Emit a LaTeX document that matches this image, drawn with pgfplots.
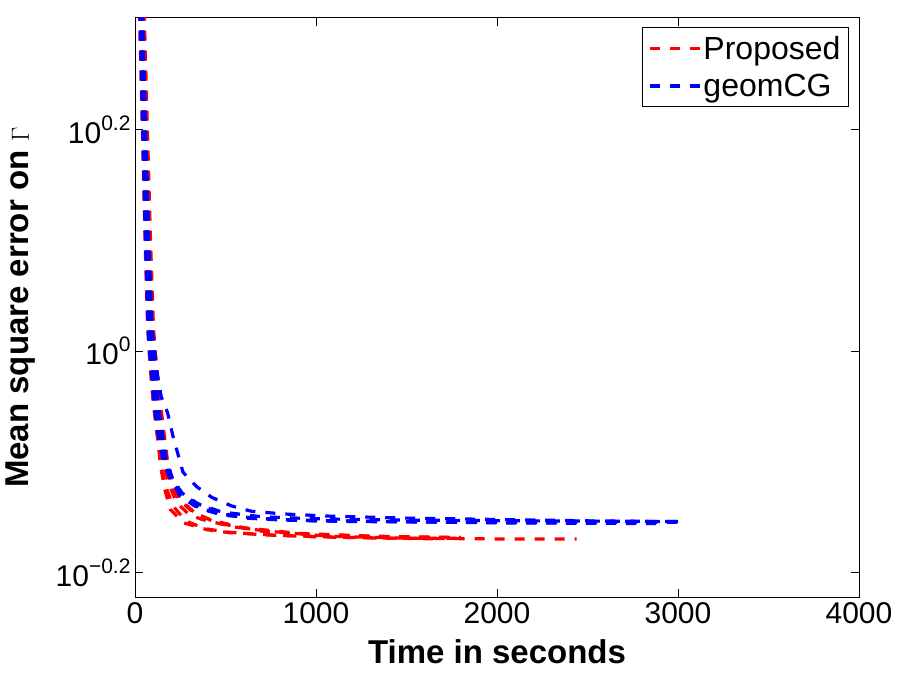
\documentclass[border=0pt]{standalone}
\usepackage{fontspec}
\setmainfont{Liberation Sans}
\usepackage{pgfplots}
\pgfplotsset{compat=1.18}
\newcommand\tickfont{\fontsize{30bp}{36bp}\selectfont}
\newcommand\legfont{\fontsize{32bp}{38bp}\selectfont}
\newcommand\labfont{\fontsize{33bp}{39bp}\selectfont\bfseries}
\newcommand\expo[1]{\raisebox{13bp}{\fontsize{21bp}{21bp}\selectfont #1}}
\begin{document}
\begin{tikzpicture}
\useasboundingbox (0,0) rectangle (900bp,675bp);
\begin{axis}[
  at={(135bp,78bp)}, anchor=south west,
  scale only axis, width=724bp, height=579bp,
  ymode=log, xmin=0, xmax=4000, ymin=0.6, ymax=2.0,
  xtick={0,1000,2000,3000,4000},
  xticklabels={0,1000,2000,3000,4000},
  ytick={0.6309573,1,1.5848932},
  yticklabels={10\expo{−0.2},10\expo{0},10\expo{0.2}},
  yminorticks=false, xminorticks=false,
  tick align=inside, major tick length=8bp,
  tick style={black, line width=0.8bp},
  axis line style={black, line width=1bp},
  ticklabel style={font=\tickfont},
  xticklabel style={yshift=-2bp},
  yticklabel style={xshift=-1bp},
  xlabel={Time in seconds},
  ylabel={Mean square error on $\Gamma$},
  xlabel style={font=\labfont, at={(axis description cs:0.5,-0.114)}, anchor=base},
  ylabel style={font=\labfont, at={(axis description cs:-0.1575,0.5)}, anchor=center},
  legend style={at={(rel axis cs:0.986,0.9845)}, anchor=north east, font=\legfont,
    draw=black, line width=0.8bp, inner xsep=6bp, inner ysep=7bp, row sep=9bp},
  legend cell align=left,
  legend image code/.code={\draw[#1] (0bp,0bp) -- (50bp,0bp);},
  every axis plot/.append style={line width=3.2bp, dash pattern=on 10bp off 10bp},
]
% Proposed (red)
\addplot[red] coordinates {(15,2.3)(25,2.0)(40,1.6)(55,1.27)(70,1.05)(78,1.0)(88,0.95)(100,0.90)(118,0.85)(140,0.80)(170,0.755)(210,0.725)(280,0.703)(380,0.692)(500,0.687)(700,0.683)(1000,0.680)(1400,0.678)(1800,0.678)};
\addlegendentry{Proposed}
\addplot[red, forget plot] coordinates {(25,2.3)(35,2.0)(50,1.6)(65,1.27)(80,1.05)(88,1.0)(100,0.95)(112,0.90)(132,0.85)(155,0.80)(185,0.76)(230,0.73)(300,0.712)(370,0.705)(550,0.694)(735,0.688)(1066,0.681)(1500,0.678)(2000,0.677)(2440,0.677)};
\addplot[red, forget plot] coordinates {(35,2.3)(45,2.0)(60,1.6)(75,1.27)(92,1.05)(102,1.0)(115,0.95)(128,0.90)(148,0.85)(168,0.80)(195,0.76)(240,0.735)(320,0.716)(420,0.704)(600,0.693)(900,0.685)(1300,0.681)(1800,0.679)};
\addplot[red, forget plot] coordinates {(20,2.3)(30,2.0)(45,1.6)(60,1.27)(75,1.05)(83,1.0)(93,0.95)(105,0.90)(122,0.85)(140,0.79)(165,0.75)(195,0.72)(270,0.70)(400,0.690)(520,0.686)(800,0.682)(1200,0.679)(1700,0.677)};
\addplot[red, forget plot] coordinates {(40,2.3)(52,2.0)(68,1.6)(85,1.27)(102,1.05)(112,1.0)(125,0.95)(140,0.90)(158,0.85)(178,0.80)(205,0.76)(250,0.735)(330,0.715)(450,0.700)(700,0.688)(1000,0.683)(1400,0.680)(1800,0.679)};
% geomCG (blue)
\addplot[blue] coordinates {(30,2.3)(42,2.0)(58,1.6)(75,1.27)(95,1.05)(108,1.0)(125,0.95)(145,0.91)(180,0.88)(210,0.838)(265,0.778)(340,0.755)(425,0.738)(535,0.725)(645,0.717)(830,0.713)(1066,0.710)(1500,0.707)(2000,0.705)(2500,0.703)(2950,0.702)};
\addlegendentry{geomCG}
\addplot[blue, forget plot] coordinates {(18,2.3)(28,2.0)(42,1.6)(57,1.27)(72,1.05)(80,1.0)(92,0.95)(104,0.90)(122,0.85)(150,0.804)(190,0.77)(237,0.75)(320,0.732)(442,0.717)(608,0.707)(830,0.704)(1200,0.702)(1800,0.701)(2400,0.700)(3000,0.701)};
\addplot[blue, forget plot] coordinates {(22,2.3)(32,2.0)(47,1.6)(62,1.27)(78,1.05)(87,1.0)(99,0.95)(112,0.90)(132,0.85)(160,0.80)(200,0.77)(276,0.737)(370,0.720)(500,0.711)(700,0.706)(1000,0.703)(1500,0.702)(2200,0.701)(3020,0.702)};
\addplot[blue, forget plot] coordinates {(26,2.3)(36,2.0)(52,1.6)(68,1.27)(85,1.05)(95,1.0)(107,0.95)(120,0.90)(140,0.85)(165,0.80)(200,0.765)(250,0.74)(330,0.725)(450,0.714)(650,0.707)(900,0.704)(1400,0.702)(2000,0.700)(2900,0.699)};
\addplot[blue, forget plot] coordinates {(32,2.3)(42,2.0)(57,1.6)(73,1.27)(90,1.05)(100,1.0)(113,0.95)(127,0.90)(148,0.85)(172,0.80)(210,0.765)(260,0.745)(350,0.728)(480,0.716)(700,0.709)(1000,0.706)(1500,0.704)(2200,0.703)(3000,0.702)};
\end{axis}
\end{tikzpicture}
\end{document}
